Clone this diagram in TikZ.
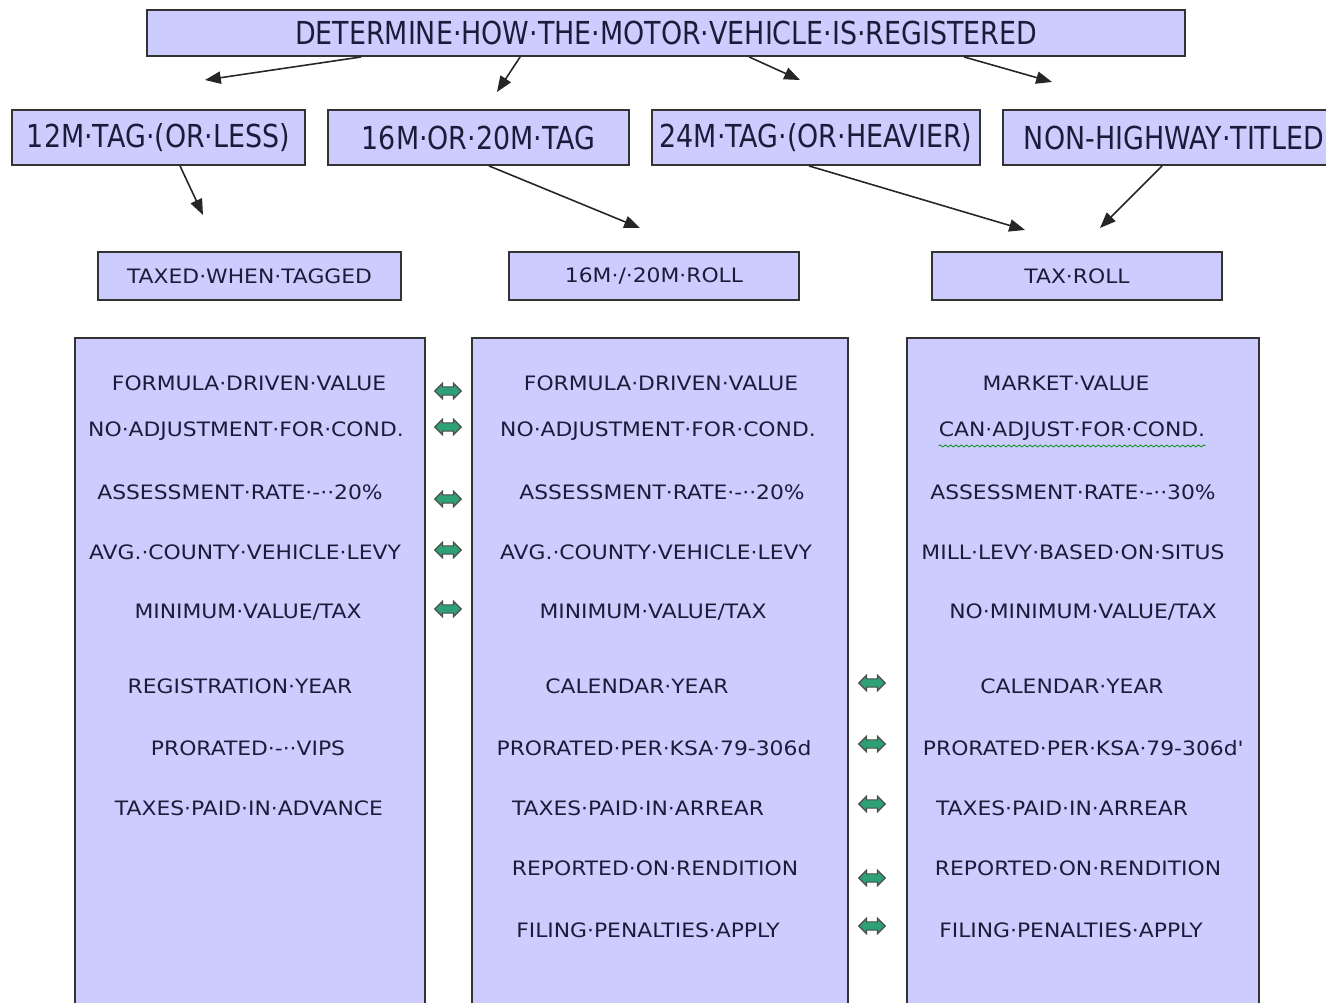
\documentclass[tikz,border=0pt]{standalone}
\usepackage{fontspec}
\setmainfont{DejaVu Sans}[FakeStretch=1.1]
\newfontfamily\headfont{DejaVu Sans}[FakeStretch=0.85]
\usetikzlibrary{arrows.meta,calc,shapes.arrows,decorations.pathmorphing}
\definecolor{lavender}{RGB}{204,204,255}
\definecolor{swapgreen}{RGB}{46,160,118}
\definecolor{inkblue}{RGB}{28,28,58}

\begin{document}
\begin{tikzpicture}[x=0.02cm,y=-0.02cm]
    \tikzstyle{every node}+=[inner sep=0pt, text=inkblue]
    \tikzstyle{box}=[draw=black!80, line width=1.1pt, fill=lavender]
    \tikzstyle{head}=[box, font=\headfont\fontsize{18}{20}\selectfont]
    \tikzstyle{cell}=[font=\fontsize{11.3}{13}\selectfont]
    \tikzstyle{link}=[-{Triangle[length=9pt,width=7pt]}, line width=0.9pt, black!85]
    \tikzstyle{swap}=[double arrow, draw=black!70, fill=swapgreen, line width=0.7pt, inner sep=2pt, double arrow head extend=2pt, minimum height=15pt]
    \tikzstyle{squiggle}=[decorate, decoration={snake, amplitude=0.6pt, segment length=3pt}, green!55!black, line width=0.4pt]
    \clip (0,0) rectangle (1326,1003);
    \node[head, minimum width=20.76cm, minimum height=0.92cm] (reg) at (666,33) {DETERMINE·HOW·THE·MOTOR·VEHICLE·IS·REGISTERED};
    \node[head, minimum width=5.86cm, minimum height=1.1cm] (t12) at (158.5,137.5) {12M·TAG·(OR·LESS)};
    \node[head, minimum width=6.02cm, minimum height=1.1cm] (t16) at (478.5,137.5) {16M·OR·20M·TAG};
    \node[head, minimum width=6.56cm, minimum height=1.1cm] (t24) at (816,137.5) {24M·TAG·(OR·HEAVIER)};
    \node[head, minimum width=6.84cm, minimum height=1.1cm] (nonhwy) at (1174,137.5) {NON-HIGHWAY·TITLED};
    \coordinate (e1) at (205,80);
    \coordinate (e2) at (497,92);
    \coordinate (e3) at (800,80);
    \coordinate (e4) at (1052,82);
    \draw[link] ($(reg.south west)+(215,0)$) -- (e1);
    \draw[link] ($(reg.south west)+(374,0)$) -- (e2);
    \draw[link] ($(reg.south west)+(603,0)$) -- (e3);
    \draw[link] ($(reg.south west)+(818,0)$) -- (e4);
    \coordinate (f1) at (203,215);
    \coordinate (f2) at (640,228);
    \coordinate (f3) at (1025,230);
    \coordinate (f4) at (1100,228);
    \draw[link] ($(t12.south west)+(169,0)$) -- (f1);
    \draw[link] ($(t16.south west)+(162,0)$) -- (f2);
    \draw[link] ($(t24.south west)+(158,0)$) -- (f3);
    \draw[link] ($(nonhwy.south west)+(160,0)$) -- (f4);
    \node[box, cell, minimum width=6.06cm, minimum height=0.96cm] (tagged) at (249.5,276) {TAXED·WHEN·TAGGED};
    \node[box, cell, minimum width=5.8cm, minimum height=0.96cm] (roll16) at (654,276) {16M·/·20M·ROLL};
    \node[box, cell, minimum width=5.8cm, minimum height=0.96cm] (taxroll) at (1077,276) {TAX·ROLL};
    \node[box, minimum width=7cm, minimum height=13.64cm] (colL) at (250,679) {};
    \node[box, minimum width=7.52cm, minimum height=13.64cm] (colM) at (660,679) {};
    \node[box, minimum width=7.04cm, minimum height=13.64cm] (colR) at (1083,679) {};
    \node[cell] (l1) at (249,383) {FORMULA·DRIVEN·VALUE};
    \node[cell] (l2) at (246,431) {NO·ADJUSTMENT·FOR·COND.};
    \node[cell] (l3) at (240,492) {ASSESSMENT·RATE·-··20\%};
    \node[cell] (l4) at (245,552) {AVG.·COUNTY·VEHICLE·LEVY};
    \node[cell] (l5) at (248,612) {MINIMUM·VALUE/TAX};
    \node[cell] (l6) at (240,686) {REGISTRATION·YEAR};
    \node[cell] (l7) at (248,748) {PRORATED·-··VIPS};
    \node[cell] (l8) at (249,808) {TAXES·PAID·IN·ADVANCE};
    \node[cell] (m1) at (661,383) {FORMULA·DRIVEN·VALUE};
    \node[cell] (m2) at (658,431) {NO·ADJUSTMENT·FOR·COND.};
    \node[cell] (m3) at (662,492) {ASSESSMENT·RATE·-··20\%};
    \node[cell] (m4) at (656,552) {AVG.·COUNTY·VEHICLE·LEVY};
    \node[cell] (m5) at (653,612) {MINIMUM·VALUE/TAX};
    \node[cell] (m6) at (637,686) {CALENDAR·YEAR};
    \node[cell] (m7) at (654,748) {PRORATED·PER·KSA·79-306d};
    \node[cell] (m8) at (638,808) {TAXES·PAID·IN·ARREAR};
    \node[cell] (m9) at (655,868) {REPORTED·ON·RENDITION};
    \node[cell] (m10) at (648,930) {FILING·PENALTIES·APPLY};
    \node[cell] (r1) at (1066,383) {MARKET·VALUE};
    \node[cell] (r2) at (1072,431) {CAN·ADJUST·FOR·COND.};
    \node[cell] (r3) at (1073,492) {ASSESSMENT·RATE·-··30\%};
    \node[cell] (r4) at (1073,552) {MILL·LEVY·BASED·ON·SITUS};
    \node[cell] (r5) at (1083,612) {NO·MINIMUM·VALUE/TAX};
    \node[cell] (r6) at (1072,686) {CALENDAR·YEAR};
    \node[cell] (r7) at (1083,748) {PRORATED·PER·KSA·79-306d\textquotesingle};
    \node[cell] (r8) at (1062,808) {TAXES·PAID·IN·ARREAR};
    \node[cell] (r9) at (1078,868) {REPORTED·ON·RENDITION};
    \node[cell] (r10) at (1071,930) {FILING·PENALTIES·APPLY};
    \draw[squiggle] ([yshift=-3pt]r2.south west) -- ([yshift=-3pt]r2.south east);
    \node[swap] (s1) at (448,391) {};
    \node[swap] (s2) at (448,427) {};
    \node[swap] (s3) at (448,499) {};
    \node[swap] (s4) at (448,550) {};
    \node[swap] (s5) at (448,609) {};
    \node[swap] (s6) at (872,683) {};
    \node[swap] (s7) at (872,744) {};
    \node[swap] (s8) at (872,804) {};
    \node[swap] (s9) at (872,878) {};
    \node[swap] (s10) at (872,926) {};
\end{tikzpicture}
\end{document}
